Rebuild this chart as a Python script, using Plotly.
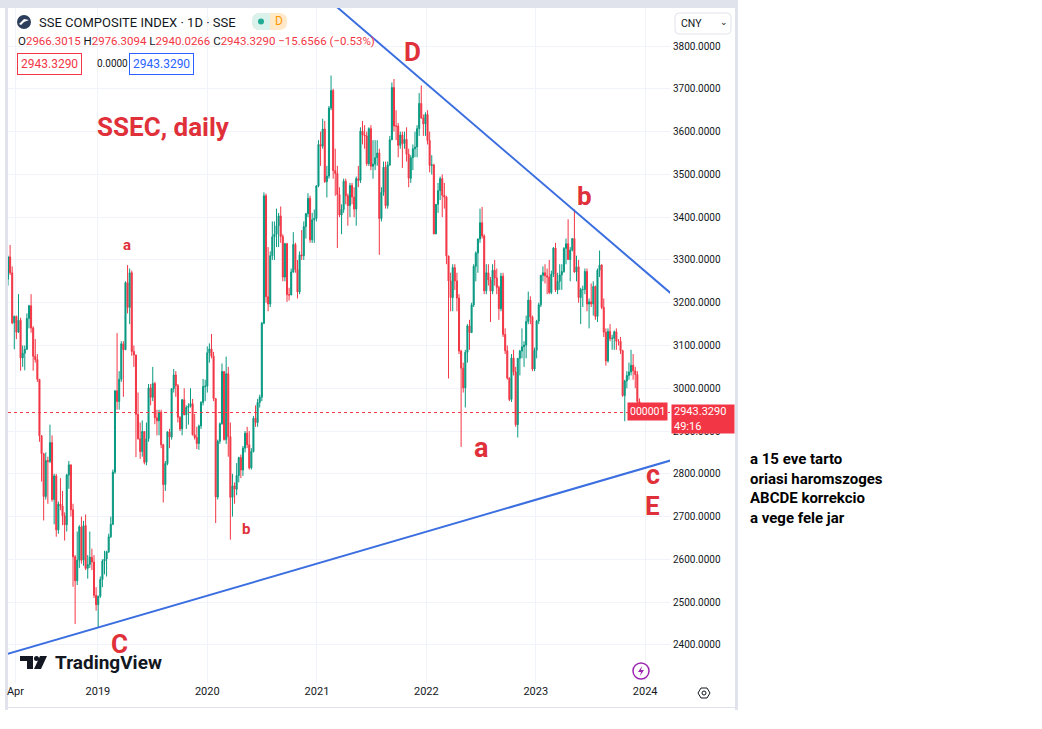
import pandas as pd
import plotly.graph_objects as go

W, H = 1042, 729

# SSE Composite, weekly candles (week ending Friday)
first_open = 3255

close_2018 = [3307, 3270, 3153, 3168, 3131, 3159, 3071, 3082, 3091, 3163,
              3193, 3141, 3075, 3067, 3021, 2889, 2847, 2747, 2831, 2829,
              2873, 2740, 2795, 2669, 2729, 2725, 2702, 2681, 2797, 2821,
              2716, 2606, 2550, 2598, 2676, 2598, 2679, 2579, 2588, 2605,
              2594, 2516, 2494]
high_2018 = [3310, 3335, 3285, 3170, 3170, 3220, 3165, 3100, 3100, 3175,
             3195, 3220, 3145, 3115, 3080, 3021, 2890, 2849, 2850, 2840,
             2915, 2890, 2800, 2800, 2735, 2790, 2760, 2710, 2800, 2830,
             2821, 2730, 2610, 2665, 2680, 2700, 2690, 2705, 2610, 2665,
             2625, 2610, 2535]
low_2018 = [3240, 3265, 3150, 3091, 3115, 3130, 3041, 3050, 3042, 3090,
            3140, 3130, 3041, 3060, 3015, 2875, 2782, 2691, 2740, 2730,
            2825, 2735, 2682, 2653, 2660, 2715, 2680, 2644, 2665, 2765,
            2700, 2536, 2449, 2540, 2580, 2590, 2585, 2575, 2555, 2580,
            2575, 2510, 2480]

close_2019 = [2514, 2553, 2596, 2601, 2618, 2653, 2682, 2804, 2994, 2969,
              3021, 3104, 3090, 3247, 3189, 3270, 3086, 3078, 2939, 2882,
              2852, 2899, 2827, 2882, 3001, 2979, 3011, 2931, 2924, 2944,
              2868, 2775, 2824, 2898, 2886, 2999, 3031, 3006, 2932, 2905,
              2973, 2938, 2955, 2958, 2964, 2891, 2885, 2871, 2912, 2967,
              3004, 3005]
high_2019 = [2515, 2560, 2600, 2620, 2620, 2660, 2700, 2810, 2995, 3129,
             3040, 3110, 3110, 3250, 3288, 3280, 3275, 3100, 3078, 2990,
             2920, 2925, 2900, 2920, 3010, 3010, 3050, 3015, 2950, 2950,
             2950, 2870, 2830, 2900, 2905, 3000, 3045, 3040, 3010, 2935,
             2975, 3000, 2960, 2965, 3000, 2975, 2940, 2910, 2915, 2970,
             3022, 3020]
low_2019 = [2440, 2510, 2535, 2565, 2560, 2615, 2650, 2680, 2800, 2950,
            2950, 3015, 2980, 3090, 3175, 3150, 3076, 3050, 2839, 2880,
            2835, 2840, 2822, 2820, 2875, 2960, 2970, 2916, 2890, 2890,
            2860, 2733, 2760, 2820, 2860, 2880, 2990, 2980, 2920, 2900,
            2890, 2937, 2905, 2915, 2955, 2890, 2880, 2858, 2856, 2905,
            2960, 2970]

close_2020 = [3083, 3092, 3075, 2976, 2746, 2876, 2917, 3039, 2880, 3034,
              2887, 2745, 2772, 2764, 2796, 2838, 2809, 2860, 2895, 2868,
              2814, 2852, 2930, 2920, 2967, 2979, 3152, 3450, 3214, 3197,
              3310, 3354, 3360, 3380, 3403, 3355, 3260, 3338, 3219, 3218,
              3272, 3336, 3278, 3225, 3312, 3310, 3378, 3408, 3444, 3347,
              3394, 3397]
high_2020 = [3098, 3105, 3127, 3085, 2976, 2880, 2920, 3058, 3040, 3074,
             3050, 2920, 2800, 2780, 2825, 2840, 2845, 2865, 2900, 2910,
             2900, 2860, 2935, 2960, 2975, 2985, 3155, 3458, 3455, 3330,
             3320, 3390, 3390, 3420, 3410, 3425, 3360, 3340, 3340, 3235,
             3280, 3365, 3340, 3300, 3320, 3370, 3390, 3410, 3456, 3450,
             3410, 3418]
low_2020 = [2990, 3060, 3070, 2970, 2685, 2740, 2870, 2915, 2878, 2870,
            2840, 2646, 2700, 2730, 2750, 2780, 2790, 2795, 2850, 2860,
            2810, 2810, 2850, 2910, 2910, 2955, 2970, 3150, 3200, 3180,
            3190, 3300, 3300, 3330, 3330, 3340, 3250, 3250, 3202, 3205,
            3218, 3270, 3270, 3210, 3220, 3300, 3300, 3350, 3400, 3340,
            3340, 3340]

close_2021 = [3473, 3570, 3566, 3606, 3483, 3496, 3655, 3696, 3509, 3502,
              3453, 3405, 3418, 3484, 3450, 3427, 3474, 3447, 3419, 3490,
              3486, 3601, 3592, 3590, 3525, 3607, 3519, 3524, 3539, 3550,
              3397, 3458, 3517, 3427, 3522, 3581, 3703, 3613, 3613, 3568,
              3592, 3572, 3582, 3547, 3491, 3539, 3560, 3564, 3607, 3666,
              3632, 3618, 3640]
high_2021 = [3475, 3580, 3600, 3630, 3625, 3520, 3660, 3731, 3700, 3560,
             3520, 3470, 3430, 3490, 3490, 3455, 3480, 3480, 3470, 3495,
             3520, 3610, 3625, 3615, 3600, 3610, 3615, 3580, 3580, 3580,
             3560, 3470, 3530, 3530, 3530, 3590, 3715, 3723, 3650, 3620,
             3600, 3600, 3600, 3610, 3560, 3545, 3570, 3600, 3615, 3690,
             3708, 3640, 3645]
low_2021 = [3390, 3470, 3520, 3560, 3480, 3446, 3490, 3650, 3490, 3450,
            3328, 3400, 3360, 3410, 3430, 3380, 3400, 3430, 3400, 3380,
            3470, 3480, 3570, 3560, 3520, 3520, 3510, 3490, 3510, 3520,
            3312, 3390, 3450, 3420, 3420, 3520, 3580, 3600, 3580, 3540,
            3560, 3515, 3560, 3530, 3470, 3480, 3510, 3540, 3540, 3590,
            3630, 3590, 3590]

close_2022 = [3579, 3521, 3522, 3361, 3430, 3462, 3490, 3451, 3447, 3309,
              3251, 3212, 3282, 3251, 3211, 3087, 3047, 3001, 3084, 3146,
              3130, 3195, 3285, 3316, 3349, 3387, 3356, 3228, 3270, 3253,
              3227, 3276, 3258, 3236, 3186, 3262, 3126, 3088, 3024, 2974,
              3071, 3038, 2915, 3070, 3087, 3097, 3101, 3156, 3206, 3167,
              3045, 3089]
high_2022 = [3650, 3600, 3545, 3525, 3430, 3480, 3495, 3500, 3480, 3450,
             3310, 3270, 3290, 3290, 3270, 3220, 3090, 3060, 3090, 3150,
             3160, 3200, 3290, 3320, 3350, 3420, 3424, 3360, 3290, 3290,
             3260, 3290, 3300, 3280, 3240, 3270, 3270, 3140, 3100, 3025,
             3080, 3090, 3050, 3070, 3090, 3140, 3110, 3170, 3226, 3215,
             3170, 3095]
low_2022 = [3570, 3505, 3500, 3360, 3360, 3410, 3440, 3400, 3420, 3290,
            3023, 3180, 3180, 3230, 3180, 3080, 2863, 2990, 2955, 3060,
            3090, 3130, 3190, 3250, 3270, 3340, 3350, 3220, 3220, 3240,
            3155, 3220, 3240, 3220, 3160, 3180, 3120, 3080, 3020, 2970,
            2968, 3030, 2910, 2885, 3030, 3070, 3050, 3070, 3150, 3150,
            3040, 3040]

close_2023 = [3157, 3195, 3264, 3270, 3263, 3260, 3224, 3267, 3328, 3230,
              3250, 3265, 3273, 3327, 3338, 3301, 3323, 3350, 3272, 3284,
              3212, 3231, 3231, 3273, 3197, 3202, 3197, 3238, 3168, 3276,
              3288, 3189, 3131, 3064, 3133, 3116, 3117, 3132, 3110, 3110,
              3088, 2983, 3017, 3030, 3038, 3054, 3041, 3032, 2969, 2943.329]
high_2023 = [3160, 3200, 3265, 3285, 3290, 3280, 3300, 3275, 3330, 3340,
             3270, 3290, 3290, 3330, 3350, 3395, 3330, 3350, 3418, 3310,
             3300, 3235, 3240, 3280, 3280, 3210, 3245, 3250, 3240, 3280,
             3322, 3290, 3210, 3140, 3140, 3150, 3125, 3135, 3140, 3115,
             3120, 3090, 3020, 3040, 3060, 3090, 3080, 3050, 3040, 2976.3]
low_2023 = [3070, 3150, 3190, 3250, 3245, 3220, 3220, 3220, 3260, 3225,
            3220, 3230, 3230, 3270, 3290, 3300, 3250, 3320, 3270, 3250,
            3200, 3150, 3190, 3220, 3180, 3140, 3190, 3170, 3160, 3155,
            3260, 3185, 3120, 3053, 3060, 3110, 3090, 3090, 3090, 3100,
            3080, 2980, 2923, 3000, 3020, 3030, 3020, 3000, 2960, 2940]

last_price = 2943.329

# hand-drawn trend lines (date, price)
upper_line = [("2020-12-01", 3950), ("2024-06-01", 3182)]
lower_line = [("2018-01-01", 2366), ("2024-06-01", 2845)]

price_ticks = list(range(2400, 3801, 100))
time_ticks = ["2018-04-01", "2019-01-01", "2020-01-01", "2021-01-01",
              "2022-01-01", "2023-01-01", "2024-01-01"]
time_labels = ["Apr", "2019", "2020", "2021", "2022", "2023", "2024"]

closes = close_2018 + close_2019 + close_2020 + close_2021 + close_2022 + close_2023
highs = high_2018 + high_2019 + high_2020 + high_2021 + high_2022 + high_2023
lows = low_2018 + low_2019 + low_2020 + low_2021 + low_2022 + low_2023
opens = [first_open] + closes[:-1]
dates = pd.date_range("2018-03-07", periods=len(closes), freq="W-WED")

UP = "#089981"
DOWN = "#F23645"
RED_TXT = "#e0303a"
BLUE = "#3b6fe0"
FONT = "Roboto"


def px(x):
    return x / W


def py(y):
    return 1 - y / H


def rrect(x0, y0, x1, y1, r):
    # rounded rectangle path in paper coords from pixel box
    p = [f"M{px(x0 + r)},{py(y0)}", f"L{px(x1 - r)},{py(y0)}",
         f"Q{px(x1)},{py(y0)} {px(x1)},{py(y0 + r)}", f"L{px(x1)},{py(y1 - r)}",
         f"Q{px(x1)},{py(y1)} {px(x1 - r)},{py(y1)}", f"L{px(x0 + r)},{py(y1)}",
         f"Q{px(x0)},{py(y1)} {px(x0)},{py(y1 - r)}", f"L{px(x0)},{py(y0 + r)}",
         f"Q{px(x0)},{py(y0)} {px(x0 + r)},{py(y0)}", "Z"]
    return " ".join(p)


def poly(points):
    return "M" + " L".join(f"{px(a)},{py(b)}" for a, b in points) + " Z"


fig = go.Figure()

fig.add_trace(go.Candlestick(
    x=dates, open=opens, high=highs, low=lows, close=closes,
    increasing=dict(line=dict(color=UP, width=1), fillcolor=UP),
    decreasing=dict(line=dict(color=DOWN, width=1), fillcolor=DOWN),
    whiskerwidth=0, showlegend=False, hoverinfo="skip"))

for ln in (upper_line, lower_line):
    fig.add_trace(go.Scatter(x=[p[0] for p in ln], y=[p[1] for p in ln], mode="lines",
                             line=dict(color=BLUE, width=2), showlegend=False, hoverinfo="skip"))

shapes = []
# frame around the screenshot
for x0, y0, x1, y1 in [(0, 0, 738, 8), (5, 0, 8, 710), (735, 0, 738, 710), (5, 707, 738, 708)]:
    shapes.append(dict(type="rect", xref="paper", yref="paper", x0=px(x0), x1=px(x1),
                       y0=py(y1), y1=py(y0), fillcolor="#e0e3eb", line=dict(width=0), layer="below"))
# last price dotted line
shapes.append(dict(type="line", xref="paper", yref="y", x0=px(8), x1=px(670),
                   y0=last_price, y1=last_price, line=dict(color=DOWN, width=1, dash="dot")))
# symbol logo
shapes.append(dict(type="circle", xref="paper", yref="paper", x0=px(17), x1=px(31), y0=py(29), y1=py(15),
                   fillcolor="#2d3e5c", line=dict(width=0)))
shapes.append(dict(type="path", xref="paper", yref="paper",
                   path=poly([(19, 24), (24, 19), (29, 20), (24, 22), (21, 25)]),
                   fillcolor="white", line=dict(width=0)))
# status badge
shapes.append(dict(type="path", xref="paper", yref="paper", path=rrect(252, 13, 287, 30, 8),
                   fillcolor="#ffe9c8", line=dict(width=0)))
shapes.append(dict(type="path", xref="paper", yref="paper",
                   path=f"M{px(270)},{py(13)} L{px(260)},{py(13)} Q{px(252)},{py(13)} {px(252)},{py(21.5)} "
                        f"Q{px(252)},{py(30)} {px(260)},{py(30)} L{px(270)},{py(30)} Z",
                   fillcolor="#daf1ec", line=dict(width=0)))
shapes.append(dict(type="circle", xref="paper", yref="paper", x0=px(258), x1=px(264), y0=py(24.5), y1=py(18.5),
                   fillcolor="#22ab94", line=dict(width=0)))
# currency box
shapes.append(dict(type="path", xref="paper", yref="paper", path=rrect(675, 13, 731, 34, 4),
                   fillcolor="white", line=dict(color="#e0e3eb", width=1)))
# TradingView logo glyph
shapes.append(dict(type="path", xref="paper", yref="paper",
                   path=poly([(20, 656), (33, 656), (33, 669), (27, 669), (27, 661), (20, 661)]),
                   fillcolor="#131722", line=dict(width=0)))
shapes.append(dict(type="circle", xref="paper", yref="paper", x0=px(34), x1=px(39), y0=py(661), y1=py(656),
                   fillcolor="#131722", line=dict(width=0)))
shapes.append(dict(type="path", xref="paper", yref="paper",
                   path=poly([(40, 656), (47, 656), (41, 669), (34, 669)]),
                   fillcolor="#131722", line=dict(width=0)))
# lightning icon
shapes.append(dict(type="circle", xref="paper", yref="paper", x0=px(633), x1=px(649), y0=py(679), y1=py(663),
                   fillcolor="white", line=dict(color="#9c27b0", width=1.5)))
shapes.append(dict(type="path", xref="paper", yref="paper",
                   path=poly([(642, 666), (638, 672), (641, 672), (640, 676), (644, 670), (641, 670)]),
                   fillcolor="#9c27b0", line=dict(width=0)))
# settings hexagon
shapes.append(dict(type="path", xref="paper", yref="paper",
                   path=poly([(698, 693), (701, 688), (707, 688), (710, 693), (707, 698), (701, 698)]),
                   fillcolor="white", line=dict(color="#131722", width=1)))
shapes.append(dict(type="circle", xref="paper", yref="paper", x0=px(702), x1=px(706), y0=py(695), y1=py(691),
                   fillcolor="white", line=dict(color="#131722", width=1)))


def note(x, y, text, size, color="#131722", weight="normal", xanchor="center", **kw):
    return dict(x=px(x), y=py(y), xref="paper", yref="paper", text=text, showarrow=False,
                xanchor=xanchor, yanchor="middle", font=dict(family=FONT, size=size, color=color, weight=weight), **kw)


def red(v):
    return f"<span style='color:{DOWN}'>{v}</span>"


notes = [
    note(37, 22, "SSE COMPOSITE INDEX · 1D · SSE", 13, xanchor="left"),
    note(279, 21.5, "D", 12, color="#ff9800"),
    note(16, 41, "O" + red("2966.3015") + " H" + red("2976.3094") + " L" + red("2940.0266")
         + " C" + red("2943.3290") + " " + red("−15.6566 (−0.53%)"), 11.5, xanchor="left"),
    note(17, 63.5, "2943.3290", 12, color=DOWN, xanchor="left", bgcolor="white",
         bordercolor=DOWN, borderwidth=1, borderpad=3),
    note(95, 63.5, "0.0000", 10, xanchor="left"),
    note(129, 63.5, "2943.3290", 12, color="#2962ff", xanchor="left", bgcolor="white",
         bordercolor="#2962ff", borderwidth=1, borderpad=3),
    note(679, 23, "CNY", 10.5, xanchor="left"),
    note(724, 22, "⌄", 9),
    # chart drawings
    note(95, 127, "SSEC, daily", 26, color=RED_TXT, weight="bold", xanchor="left"),
    note(412, 52, "D", 26, color=RED_TXT, weight="bold"),
    note(584, 196, "b", 26, color=RED_TXT, weight="bold"),
    note(127, 245, "a", 15, color=RED_TXT, weight="bold"),
    note(481, 448, "a", 27, color=RED_TXT, weight="bold"),
    note(246, 529, "b", 15, color=RED_TXT, weight="bold"),
    note(119, 644, "C", 26, color=RED_TXT, weight="bold"),
    note(653, 475, "c", 27, color=RED_TXT, weight="bold"),
    note(652, 506, "E", 26, color=RED_TXT, weight="bold"),
    # price labels on the axis
    note(627, 411.5, "000001", 10.5, color="white", xanchor="left", bgcolor=DOWN, borderpad=2),
    note(671, 418.5, "2943.3290<br>49:16", 11, color="white", xanchor="left", bgcolor=DOWN,
         borderpad=2, align="left", width=58, height=24),
    note(53, 662, "TradingView", 19, weight="bold", xanchor="left"),
    # side comment
    note(748, 488, "a 15 eve tarto<br>oriasi haromszoges<br>ABCDE korrekcio<br>a vege fele jar",
         15, color="black", weight="bold", xanchor="left", align="left"),
]

fig.update_layout(
    width=W, height=H, margin=dict(l=0, r=0, t=0, b=0, autoexpand=False),
    paper_bgcolor="white", plot_bgcolor="white",
    font=dict(family=FONT, color="#131722"),
    shapes=shapes, annotations=notes, hovermode=False,
    xaxis=dict(domain=[px(8), px(670)], type="date", range=["2018-03-07", "2024-03-24"],
               tickvals=time_ticks, ticktext=time_labels, showgrid=True, gridcolor="#f0f3fa",
               zeroline=False, showline=False, ticks="", tickfont=dict(size=11, color="#131722"),
               rangeslider=dict(visible=False), fixedrange=True),
    yaxis=dict(domain=[py(683), py(8)], range=[2311, 3889], side="right",
               tickvals=price_ticks, tickformat=".4f", showgrid=True, gridcolor="#f0f3fa",
               zeroline=False, showline=False, ticks="", ticklabelstandoff=2,
               tickfont=dict(size=10, color="#131722"), fixedrange=True),
)

# page body has a default 8px margin; drop it so the figure sits at the window corner
fig.write_html("out.html", config={"displayModeBar": False},
               post_script="document.body.style.margin='0';")
